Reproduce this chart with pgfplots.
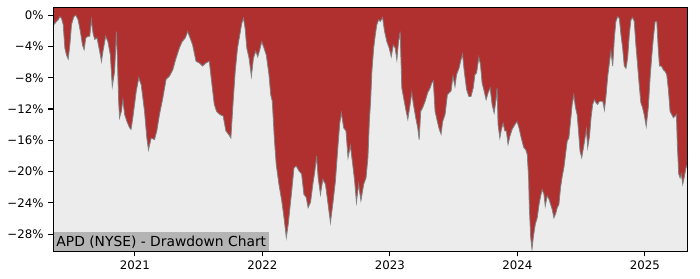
\documentclass[border=0pt]{standalone}
\usepackage{pgfplots}
\pgfplotsset{compat=1.18}
\usepackage{pgfplotstable}
\usepackage{fontspec}
\setmainfont{DejaVu Sans}
\definecolor{ddred}{RGB}{176,48,48}
\definecolor{bggray}{RGB}{236,236,236}
\definecolor{lblgray}{RGB}{180,180,180}
\pgfplotstableread{
x y
2020.359 -1.5
2020.365 -1.2
2020.386 -0.8
2020.398 -0.6
2020.412 -0.2
2020.425 -0.4
2020.438 -1.2
2020.451 -4.2
2020.464 -5.1
2020.477 -5.6
2020.490 -3.8
2020.503 -1.2
2020.521 -0.2
2020.537 0
2020.555 -0.6
2020.573 -2.1
2020.589 -3.8
2020.602 -4.4
2020.615 -2.9
2020.633 -2.7
2020.646 -2.7
2020.659 -0.6
2020.672 -2.3
2020.685 -3.1
2020.703 -2.9
2020.724 -4.6
2020.738 -5.9
2020.750 -4.6
2020.771 -2.7
2020.789 -3.4
2020.808 -5.1
2020.823 -9.1
2020.841 -7.2
2020.855 -2.1
2020.863 -5.5
2020.873 -11.0
2020.880 -13.1
2020.894 -12.3
2020.906 -10.8
2020.920 -12.7
2020.938 -13.6
2020.959 -14.4
2020.970 -14.6
2020.984 -13.1
2021.011 -9.7
2021.031 -8.0
2021.050 -8.9
2021.076 -12.3
2021.094 -15.7
2021.107 -17.2
2021.128 -15.7
2021.154 -15.9
2021.172 -14.8
2021.193 -12.7
2021.219 -10.6
2021.245 -8.2
2021.271 -7.8
2021.297 -7.0
2021.323 -5.5
2021.349 -4.2
2021.370 -3.4
2021.396 -2.9
2021.414 -2.1
2021.433 -2.9
2021.453 -3.8
2021.480 -5.9
2021.505 -6.1
2021.531 -6.5
2021.558 -6.1
2021.584 -5.9
2021.605 -8.9
2021.623 -11.4
2021.641 -12.3
2021.667 -12.7
2021.693 -12.9
2021.714 -14.8
2021.734 -15.2
2021.753 -15.7
2021.771 -11.0
2021.787 -7.2
2021.805 -4.2
2021.823 -2.5
2021.839 -1.0
2021.852 -0.4
2021.865 -1.7
2021.878 -4.2
2021.896 -5.5
2021.914 -7.8
2021.930 -5.5
2021.948 -4.6
2021.964 -5.3
2021.980 -4.4
2021.995 -3.4
2022.013 -4.2
2022.031 -5.1
2022.052 -7.6
2022.066 -10.2
2022.078 -11.0
2022.094 -15.7
2022.109 -19.1
2022.130 -21.6
2022.152 -23.7
2022.170 -25.9
2022.188 -28.4
2022.203 -26.7
2022.230 -22.5
2022.248 -19.5
2022.266 -19.3
2022.287 -19.9
2022.308 -20.3
2022.326 -22.9
2022.344 -23.3
2022.359 -24.6
2022.378 -23.9
2022.396 -21.6
2022.412 -19.9
2022.425 -18.0
2022.438 -20.8
2022.456 -22.9
2022.474 -21.0
2022.495 -21.6
2022.516 -24.2
2022.534 -26.5
2022.552 -24.2
2022.573 -21.2
2022.594 -16.5
2022.607 -13.8
2022.620 -12.5
2022.638 -14.4
2022.656 -14.8
2022.672 -18.2
2022.691 -16.7
2022.709 -19.1
2022.724 -21.2
2022.738 -23.9
2022.755 -21.6
2022.773 -23.7
2022.795 -21.6
2022.813 -20.8
2022.828 -18.2
2022.839 -13.6
2022.849 -11.0
2022.859 -7.2
2022.873 -4.2
2022.886 -2.5
2022.898 -1.2
2022.912 -0.6
2022.925 -0.8
2022.943 -0.3
2022.959 -2.1
2022.977 -3.4
2022.995 -4.2
2023.011 -5.3
2023.027 -3.8
2023.042 -4.2
2023.055 -5.7
2023.068 -3.4
2023.081 -2.1
2023.094 -9.3
2023.113 -11.0
2023.128 -12.3
2023.141 -13.3
2023.159 -11.4
2023.172 -9.9
2023.185 -11.4
2023.203 -13.1
2023.219 -14.4
2023.230 -15.9
2023.242 -12.3
2023.258 -11.8
2023.277 -11.0
2023.297 -9.9
2023.316 -9.3
2023.328 -8.7
2023.341 -8.4
2023.355 -12.3
2023.373 -13.6
2023.388 -14.6
2023.402 -15.2
2023.414 -13.6
2023.433 -12.7
2023.451 -10.2
2023.466 -9.9
2023.480 -9.7
2023.495 -7.8
2023.511 -9.1
2023.523 -7.6
2023.542 -6.8
2023.558 -5.7
2023.570 -5.0
2023.584 -7.2
2023.602 -9.5
2023.620 -10.4
2023.636 -10.4
2023.654 -9.3
2023.667 -7.6
2023.680 -7.4
2023.698 -5.4
2023.711 -6.3
2023.724 -8.7
2023.740 -9.7
2023.755 -10.8
2023.771 -9.9
2023.787 -9.3
2023.802 -11.4
2023.818 -12.5
2023.831 -11.0
2023.841 -9.3
2023.849 -14.0
2023.863 -15.7
2023.875 -14.6
2023.888 -13.8
2023.902 -14.8
2023.914 -14.8
2023.927 -16.5
2023.941 -15.5
2023.959 -14.6
2023.980 -14.0
2023.998 -13.6
2024.013 -14.4
2024.031 -15.7
2024.050 -16.9
2024.066 -17.2
2024.078 -17.8
2024.089 -21.0
2024.094 -24.5
2024.105 -28.4
2024.115 -29.9
2024.125 -28.4
2024.141 -26.7
2024.156 -25.9
2024.170 -24.2
2024.183 -23.1
2024.195 -22.3
2024.209 -22.9
2024.219 -24.4
2024.234 -23.1
2024.248 -23.5
2024.261 -24.2
2024.273 -24.8
2024.287 -25.9
2024.300 -25.4
2024.313 -24.6
2024.326 -24.2
2024.339 -22.0
2024.352 -20.6
2024.365 -19.5
2024.378 -17.8
2024.391 -16.1
2024.404 -15.7
2024.417 -13.6
2024.430 -11.4
2024.443 -10.2
2024.456 -11.8
2024.469 -12.7
2024.480 -14.8
2024.492 -17.4
2024.505 -18.2
2024.519 -16.9
2024.531 -15.7
2024.542 -14.6
2024.552 -16.9
2024.566 -15.5
2024.578 -13.1
2024.591 -11.4
2024.605 -10.8
2024.617 -11.2
2024.630 -11.4
2024.644 -11.0
2024.656 -11.0
2024.670 -11.0
2024.683 -12.1
2024.695 -10.4
2024.709 -7.8
2024.722 -6.1
2024.734 -4.6
2024.748 -6.5
2024.761 -2.9
2024.773 -0.8
2024.787 -0.2
2024.800 -0.4
2024.813 -2.5
2024.826 -4.2
2024.839 -6.5
2024.852 -6.8
2024.865 -5.5
2024.878 -2.5
2024.891 -0.6
2024.904 -0.3
2024.917 -0.8
2024.930 -3.8
2024.943 -6.3
2024.956 -8.9
2024.969 -11.2
2024.982 -11.8
2024.995 -12.7
2025.011 -14.2
2025.027 -11.8
2025.042 -7.8
2025.055 -5.1
2025.068 -2.7
2025.081 -0.8
2025.094 -0.8
2025.105 -4.2
2025.115 -6.5
2025.130 -6.5
2025.146 -7.0
2025.159 -7.2
2025.172 -7.6
2025.185 -9.5
2025.198 -12.3
2025.211 -12.7
2025.224 -13.1
2025.238 -12.9
2025.248 -12.7
2025.255 -16.5
2025.266 -20.3
2025.277 -20.8
2025.287 -20.3
2025.297 -21.6
2025.308 -20.8
2025.323 -19.5
2025.334 -19.1
}\dd
\begin{document}
\begin{tikzpicture}
\path[use as bounding box] (-38.4pt,-19.9pt) rectangle (467.5pt,181.7pt);
\begin{axis}[
  at={(0,0)}, anchor=south west,
  scale only axis,
  width=458.4pt, height=176.4pt,
  xmin=2020.359, xmax=2025.334,
  ymin=-30.2, ymax=1.0,
  axis background/.style={fill=bggray},
  xtick={2021,2022,2023,2024,2025},
  xticklabels={2021,2022,2023,2024,2025},
  ytick={-28,-24,-20,-16,-12,-8,-4,0},
  yticklabels={−28\%,−24\%,−20\%,−16\%,−12\%,−8\%,−4\%,0\%},
  xtick pos=bottom, ytick pos=left,
  tick align=outside,
  major tick length=3.5pt,
  tick style={black, line width=0.8pt},
  axis line style={black, line width=0.8pt},
  ticklabel style={font=\fontsize{8.5}{10}\selectfont},
  axis on top,
]
\addplot[fill=ddred, draw=none] table[x=x,y=y] {\dd} -- (axis cs:2025.334,2) -- (axis cs:2020.359,2) -- cycle;
\addplot[draw=gray, line width=0.6pt] table[x=x,y=y] {\dd};
\node[anchor=south west, fill=lblgray, inner xsep=2.2pt, inner ysep=0pt, minimum height=13.7pt, font=\fontsize{10}{12}\selectfont] at (rel axis cs:0,0) {APD (NYSE) - Drawdown Chart};
\end{axis}
\end{tikzpicture}
\end{document}
